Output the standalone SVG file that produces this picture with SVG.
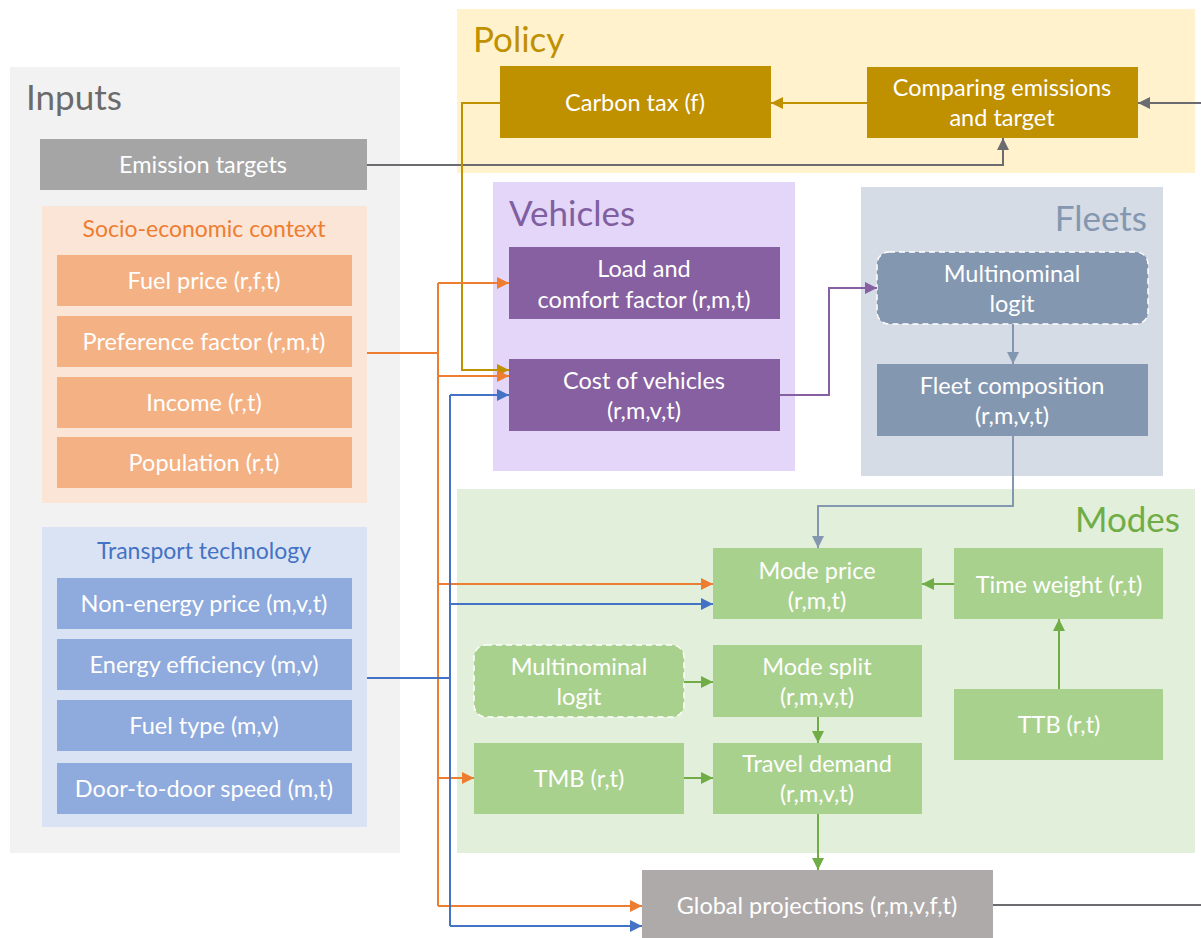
<svg xmlns="http://www.w3.org/2000/svg" width="1201" height="938" viewBox="0 0 1201 938">
<defs>
<style>
text{font-family:Lato,"Open Sans","Liberation Sans",sans-serif;text-anchor:middle}
.nt{fill:#fff;font-size:23.5px}
.title{font-size:35px;text-anchor:start}
.sub{font-size:23px}
.c{fill:none;stroke-width:2}
</style>
<marker id="aO" viewBox="0 0 10 10" refX="10" refY="5" markerWidth="12" markerHeight="12" markerUnits="userSpaceOnUse" orient="auto"><path d="M0,0L10,5L0,10z" fill="#ed7d31"/></marker>
<marker id="aB" viewBox="0 0 10 10" refX="10" refY="5" markerWidth="12" markerHeight="12" markerUnits="userSpaceOnUse" orient="auto"><path d="M0,0L10,5L0,10z" fill="#4472c4"/></marker>
<marker id="aY" viewBox="0 0 10 10" refX="10" refY="5" markerWidth="12" markerHeight="12" markerUnits="userSpaceOnUse" orient="auto"><path d="M0,0L10,5L0,10z" fill="#bf9000"/></marker>
<marker id="aG" viewBox="0 0 10 10" refX="10" refY="5" markerWidth="12" markerHeight="12" markerUnits="userSpaceOnUse" orient="auto"><path d="M0,0L10,5L0,10z" fill="#6b6b70"/></marker>
<marker id="aP" viewBox="0 0 10 10" refX="10" refY="5" markerWidth="12" markerHeight="12" markerUnits="userSpaceOnUse" orient="auto"><path d="M0,0L10,5L0,10z" fill="#8660a0"/></marker>
<marker id="aS" viewBox="0 0 10 10" refX="10" refY="5" markerWidth="12" markerHeight="12" markerUnits="userSpaceOnUse" orient="auto"><path d="M0,0L10,5L0,10z" fill="#8497b0"/></marker>
<marker id="aN" viewBox="0 0 10 10" refX="10" refY="5" markerWidth="12" markerHeight="12" markerUnits="userSpaceOnUse" orient="auto"><path d="M0,0L10,5L0,10z" fill="#70ad47"/></marker>
</defs>
<rect width="1201" height="938" fill="#fff"/>

<g id="panel-inputs">
<rect x="10" y="67" width="390" height="786" fill="#f2f2f2"/>
<text class="title" x="26" y="110" fill="#6b6b6b">Inputs</text>
</g>
<g id="panel-policy">
<rect x="457" y="9" width="738" height="164" fill="#fff2cc"/>
<text class="title" x="473" y="52" fill="#bf9000">Policy</text>
</g>
<g id="panel-vehicles">
<rect x="493" y="182" width="302" height="289" fill="#e4d6f8"/>
<text class="title" x="509" y="226" fill="#7f5f9f">Vehicles</text>
</g>
<g id="panel-fleets">
<rect x="861" y="187" width="302" height="289" fill="#d6dce5"/>
<text class="title" x="1147" y="231" fill="#8497b0" style="text-anchor:end">Fleets</text>
</g>
<g id="panel-modes">
<rect x="457" y="489" width="738" height="364" fill="#e2efda"/>
<text class="title" x="1180" y="532" fill="#70ad47" style="text-anchor:end">Modes</text>
</g>

<g id="emission-targets">
<rect x="40" y="139" width="327" height="51" fill="#a5a5a5"/>
<text class="nt" x="203" y="173">Emission targets</text>
</g>
<g id="socio-economic">
<rect x="42" y="206" width="325" height="297" fill="#fbe5d6"/>
<text class="sub" x="204" y="237" fill="#ed7d31">Socio-economic context</text>
</g>
<g id="fuel-price"><rect x="57" y="255" width="295" height="51" fill="#f4b183"/><text class="nt" x="204" y="289">Fuel price (r,f,t)</text></g>
<g id="preference-factor"><rect x="57" y="316" width="295" height="51" fill="#f4b183"/><text class="nt" x="204" y="350">Preference factor (r,m,t)</text></g>
<g id="income"><rect x="57" y="377" width="295" height="51" fill="#f4b183"/><text class="nt" x="204" y="411">Income (r,t)</text></g>
<g id="population"><rect x="57" y="437" width="295" height="51" fill="#f4b183"/><text class="nt" x="204" y="471">Population (r,t)</text></g>

<g id="transport-technology">
<rect x="42" y="527" width="325" height="300" fill="#dae3f3"/>
<text class="sub" x="204" y="559" fill="#4472c4">Transport technology</text>
</g>
<g id="non-energy-price"><rect x="57" y="578" width="295" height="51" fill="#8faadc"/><text class="nt" x="204" y="612">Non-energy price (m,v,t)</text></g>
<g id="energy-efficiency"><rect x="57" y="639" width="295" height="51" fill="#8faadc"/><text class="nt" x="204" y="673">Energy efficiency (m,v)</text></g>
<g id="fuel-type"><rect x="57" y="700" width="295" height="51" fill="#8faadc"/><text class="nt" x="204" y="734">Fuel type (m,v)</text></g>
<g id="door-to-door"><rect x="57" y="763" width="295" height="51" fill="#8faadc"/><text class="nt" x="204" y="797">Door-to-door speed (m,t)</text></g>

<g id="carbon-tax"><rect x="500" y="66" width="271" height="72" fill="#bf9000"/><text class="nt" x="635" y="111">Carbon tax (f)</text></g>
<g id="comparing"><rect x="867" y="67" width="271" height="71" fill="#bf9000"/><text class="nt" x="1002" y="96">Comparing emissions</text><text class="nt" x="1002" y="126">and target</text></g>

<g id="load-comfort"><rect x="509" y="247" width="271" height="72" fill="#8660a0"/><text class="nt" x="644" y="277">Load and</text><text class="nt" x="644" y="308">comfort factor (r,m,t)</text></g>
<g id="cost-vehicles"><rect x="509" y="359" width="271" height="72" fill="#8660a0"/><text class="nt" x="644" y="389">Cost of vehicles</text><text class="nt" x="644" y="419">(r,m,v,t)</text></g>

<g id="fleet-logit"><rect x="877" y="252" width="271" height="72" rx="12" fill="#8497b0" stroke="#fff" stroke-width="1.5" stroke-dasharray="6,4"/><text class="nt" x="1012" y="282">Multinominal</text><text class="nt" x="1012" y="312">logit</text></g>
<g id="fleet-composition"><rect x="877" y="364" width="271" height="72" fill="#8497b0"/><text class="nt" x="1012" y="394">Fleet composition</text><text class="nt" x="1012" y="424">(r,m,v,t)</text></g>

<g id="mode-price"><rect x="713" y="548" width="209" height="71" fill="#a9d18e"/><text class="nt" x="817" y="579">Mode price</text><text class="nt" x="817" y="609">(r,m,t)</text></g>
<g id="time-weight"><rect x="954" y="548" width="209" height="71" fill="#a9d18e"/><text class="nt" x="1059" y="593">Time weight (r,t)</text></g>
<g id="mode-logit"><rect x="474" y="645" width="210" height="72" rx="12" fill="#a9d18e" stroke="#fff" stroke-width="1.5" stroke-dasharray="6,4"/><text class="nt" x="579" y="675">Multinominal</text><text class="nt" x="579" y="705">logit</text></g>
<g id="mode-split"><rect x="713" y="645" width="209" height="72" fill="#a9d18e"/><text class="nt" x="817" y="675">Mode split</text><text class="nt" x="817" y="705">(r,m,v,t)</text></g>
<g id="ttb"><rect x="954" y="689" width="209" height="71" fill="#a9d18e"/><text class="nt" x="1059" y="733">TTB (r,t)</text></g>
<g id="tmb"><rect x="474" y="743" width="210" height="71" fill="#a9d18e"/><text class="nt" x="579" y="787">TMB (r,t)</text></g>
<g id="travel-demand"><rect x="713" y="743" width="209" height="71" fill="#a9d18e"/><text class="nt" x="817" y="772">Travel demand</text><text class="nt" x="817" y="802">(r,m,v,t)</text></g>
<g id="global-projections"><rect x="642" y="870" width="351" height="68" fill="#aeaaaa"/><text class="nt" x="817" y="914">Global projections (r,m,v,f,t)</text></g>

<g id="connectors">
<path class="c" stroke="#6b6b70" d="M1201,103H1138" marker-end="url(#aG)"/>
<path class="c" stroke="#bf9000" d="M867,103H771" marker-end="url(#aY)"/>
<path class="c" stroke="#6b6b70" d="M367,165H1003V138" marker-end="url(#aG)"/>
<path class="c" stroke="#bf9000" d="M500,103H462V370H509" marker-end="url(#aY)"/>
<path class="c" stroke="#ed7d31" d="M367,353H438"/>
<path class="c" stroke="#ed7d31" d="M438,283V906"/>
<path class="c" stroke="#ed7d31" d="M438,283H509" marker-end="url(#aO)"/>
<path class="c" stroke="#ed7d31" d="M438,376H509" marker-end="url(#aO)"/>
<path class="c" stroke="#ed7d31" d="M438,584H713" marker-end="url(#aO)"/>
<path class="c" stroke="#ed7d31" d="M438,778H474" marker-end="url(#aO)"/>
<path class="c" stroke="#ed7d31" d="M438,906H642" marker-end="url(#aO)"/>
<path class="c" stroke="#4472c4" d="M367,678H450"/>
<path class="c" stroke="#4472c4" d="M450,395V926"/>
<path class="c" stroke="#4472c4" d="M450,395H509" marker-end="url(#aB)"/>
<path class="c" stroke="#4472c4" d="M450,604H713" marker-end="url(#aB)"/>
<path class="c" stroke="#4472c4" d="M450,926H642" marker-end="url(#aB)"/>
<path class="c" stroke="#8660a0" d="M780,395H829V288H877" marker-end="url(#aP)"/>
<path class="c" stroke="#8497b0" d="M1013,324V364" marker-end="url(#aS)"/>
<path class="c" stroke="#8497b0" d="M1013,436V506H818V548" marker-end="url(#aS)"/>
<path class="c" stroke="#70ad47" d="M954,584H922" marker-end="url(#aN)"/>
<path class="c" stroke="#70ad47" d="M1059,689V619" marker-end="url(#aN)"/>
<path class="c" stroke="#70ad47" d="M684,682H713" marker-end="url(#aN)"/>
<path class="c" stroke="#70ad47" d="M818,717V743" marker-end="url(#aN)"/>
<path class="c" stroke="#70ad47" d="M684,778H713" marker-end="url(#aN)"/>
<path class="c" stroke="#70ad47" d="M818,814V870" marker-end="url(#aN)"/>
<path class="c" stroke="#6b6b70" d="M993,905H1201"/>
</g>
</svg>
